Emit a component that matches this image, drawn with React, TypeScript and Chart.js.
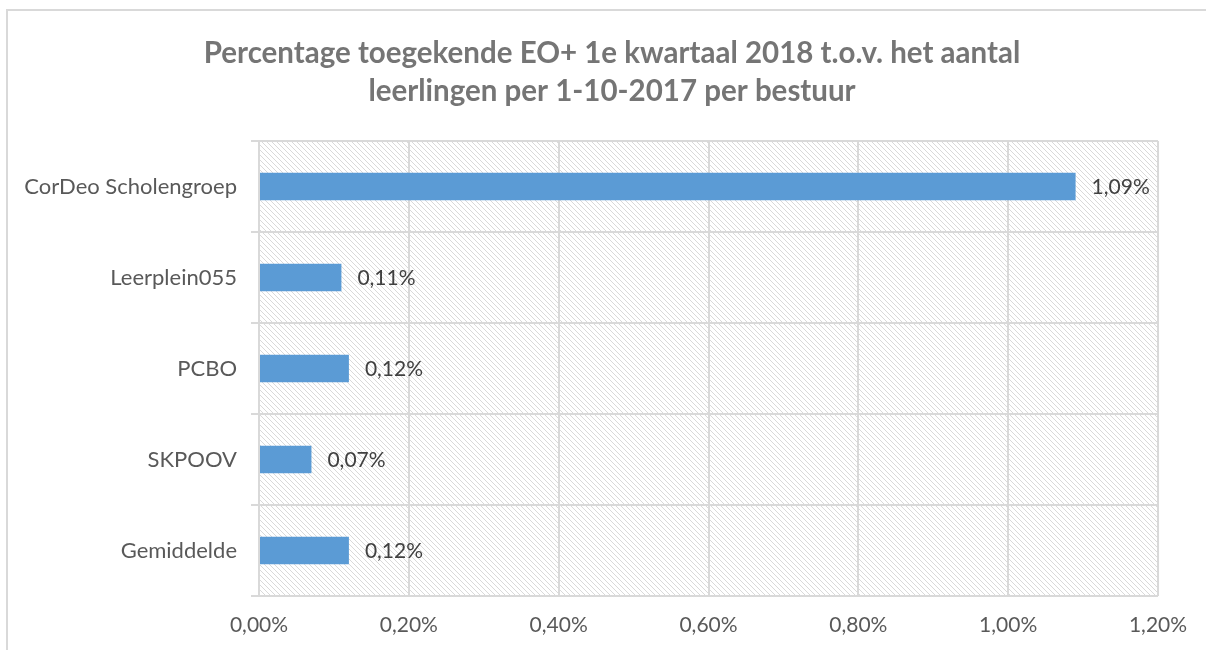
import React, { useEffect, useRef } from "react";
import { Chart, registerables } from "chart.js";

Chart.register(...registerables);

const categories = ["CorDeo Scholengroep", "Leerplein055", "PCBO", "SKPOOV", "Gemiddelde"];
const values = [1.09, 0.11, 0.12, 0.07, 0.12];
const titleLines = [
  "Percentage toegekende EO+ 1e kwartaal 2018 t.o.v. het aantal",
  "leerlingen per 1-10-2017 per bestuur",
];
const xTicks = [0, 0.2, 0.4, 0.6, 0.8, 1.0, 1.2];

const FONT = "Lato, 'Open Sans', sans-serif";
const fmt = (v: number) => v.toFixed(2).replace(".", ",") + "%";

function makePattern(ctx: CanvasRenderingContext2D) {
  const c = document.createElement("canvas");
  c.width = 5;
  c.height = 5;
  const g = c.getContext("2d")!;
  g.fillStyle = "#ffffff";
  g.fillRect(0, 0, 5, 5);
  g.fillStyle = "#d9d9d9";
  for (let i = 0; i < 5; i++) g.fillRect(i, i, 1, 1);
  return ctx.createPattern(c, "repeat");
}

const bgPlugin = {
  id: "bg",
  beforeDraw(chart: any) {
    const { ctx, chartArea } = chart;
    ctx.save();
    ctx.fillStyle = "#ffffff";
    ctx.fillRect(0, 0, chart.width, chart.height);
    ctx.fillStyle = "#d9d9d9";
    ctx.fillRect(6, 9, chart.width - 6, 2);
    ctx.fillRect(6, 9, 2, chart.height - 9);
    const p = makePattern(ctx);
    if (p) {
      ctx.fillStyle = p;
      ctx.fillRect(chartArea.left, chartArea.top, chartArea.right - chartArea.left, chartArea.bottom - chartArea.top);
    }
    ctx.restore();
  },
  afterDraw(chart: any) {
    const { ctx } = chart;
    ctx.save();
    ctx.fillStyle = "#757575";
    ctx.font = `bold 29.5px ${FONT}`;
    ctx.textAlign = "center";
    ctx.textBaseline = "middle";
    titleLines.forEach((t, i) => ctx.fillText(t, 612, 53 + i * 38));
    const meta = chart.getDatasetMeta(0);
    ctx.fillStyle = "#404040";
    ctx.font = `21px ${FONT}`;
    ctx.textAlign = "left";
    meta.data.forEach((bar: any, i: number) => {
      ctx.fillText(fmt(values[i]), bar.x + 16, bar.y + 1);
    });
    ctx.restore();
  },
};

export default function App() {
  const ref = useRef<HTMLCanvasElement>(null);
  useEffect(() => {
    const chart = new Chart(ref.current!, {
      type: "bar",
      data: {
        labels: categories,
        datasets: [
          {
            data: values,
            backgroundColor: "#5B9BD5",
            barPercentage: 0.3,
            categoryPercentage: 1,
          },
        ],
      },
      options: {
        indexAxis: "y",
        animation: false,
        responsive: false,
        layout: { padding: { top: 141, right: 48, left: 0, bottom: 0 } },
        plugins: { legend: { display: false }, tooltip: { enabled: false }, title: { display: false } },
        scales: {
          x: {
            min: 0,
            max: 1.2,
            afterBuildTicks: (s: any) => {
              s.ticks = xTicks.map((v) => ({ value: v }));
            },
            afterFit: (s: any) => {
              s.height = 54;
            },
            grid: { color: "#d9d9d9", lineWidth: 2, drawTicks: false },
            border: { display: false },
            ticks: {
              padding: 17,
              color: "#595959",
              font: { family: FONT, size: 21 },
              callback: (v: any) => fmt(Number(v)),
            },
          },
          y: {
            afterFit: (s: any) => {
              s.width = 259;
            },
            grid: { color: "#d9d9d9", lineWidth: 2, offset: true, drawTicks: true, tickLength: 8 },
            border: { display: false },
            ticks: {
              padding: 14,
              color: "#595959",
              font: { family: FONT, size: 22 },
            },
          },
        },
      },
      plugins: [bgPlugin],
    });
    return () => chart.destroy();
  }, []);
  return (
    <div style={{ position: "absolute", left: 0, top: 0, width: 1206, height: 650 }}>
      <canvas ref={ref} width={1206} height={650} />
    </div>
  );
}
